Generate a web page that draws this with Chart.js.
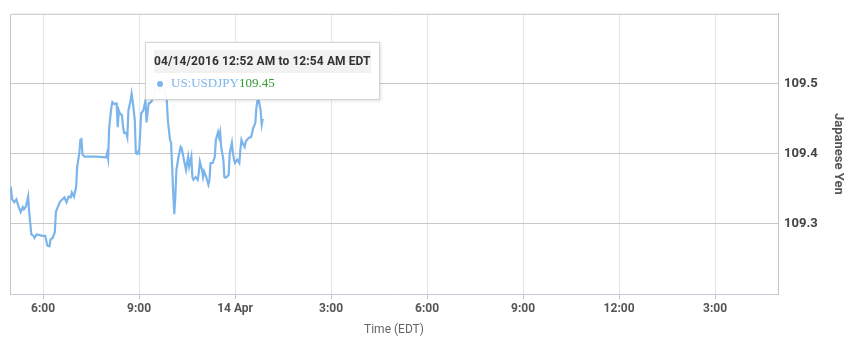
<!DOCTYPE html>
<html>
<head>
<meta charset="utf-8">
<script src="https://cdn.jsdelivr.net/npm/chart.js@4/dist/chart.umd.min.js"></script>
<style>
  body { margin: 0; background: #fff; }
  #wrap { position: relative; width: 854px; height: 350px; }
  #tip {
    position: absolute; display: none; pointer-events: none;
    background: rgba(255,255,255,0.95);
    border: 1px solid #d4d4d4;
    box-shadow: 1px 1px 3px rgba(0,0,0,0.12);
    padding: 7px 8px;
  }
  #tip .head {
    font: bold 12px Roboto, sans-serif; color: #333; letter-spacing: 0.1px;
    background: #f2f2f2; line-height: 23px; white-space: nowrap;
  }
  #tip .row {
    font: 13px "Liberation Serif", serif; line-height: 19px; white-space: nowrap;
  }
  #tip .dot {
    display: inline-block; width: 6px; height: 6px; border-radius: 3px;
    background: #7cb5ec; margin: 0 8px 1px 3px; vertical-align: middle;
  }
</style>
</head>
<body>
<div id="wrap">
  <canvas id="myChart" width="854" height="350"></canvas>
  <div id="tip"></div>
</div>
<script>
// minutes since midnight, 13 Apr 2016 (EDT)
let times = [
  1018,1020,1022,1026,1030,1034,1038,1042,1044,1048,
  1052,1054,1058,1062,1064,1068,1074,1078,1084,1088,
  1092,1094,1098,1102,1104,1108,1112,1116,1120,1124,
  1128,1132,1134,1138,1142,1144,1148,1150,1152,1154,
  1158,1168,1180,1198,1200,1202,1204,1208,1210,1214,
  1218,1220,1222,1224,1228,1230,1232,1236,1238,1240,
  1244,1246,1248,1252,1254,1256,1258,1260,1264,1268,
  1270,1272,1274,1278,1282,1284,1288,1292,1298,1304,
  1308,1312,1314,1318,1320,1322,1324,1326,1328,1330,
  1334,1338,1340,1344,1348,1350,1352,1354,1358,1360,
  1362,1366,1370,1372,1374,1378,1380,1382,1386,1390,
  1392,1394,1398,1402,1404,1408,1410,1412,1414,1418,
  1420,1422,1424,1428,1430,1434,1436,1438,1440,1444,
  1448,1450,1452,1454,1458,1460,1462,1466,1470,1472,
  1474,1478,1480,1482,1484,1488,1490,1492
];
let usdjpy = [
  109.346,109.349,109.335,109.331,109.335,109.325,109.317,109.324,109.321,109.325,
  109.339,109.317,109.285,109.283,109.280,109.285,109.284,109.283,109.283,109.269,
  109.268,109.278,109.280,109.288,109.317,109.325,109.332,109.335,109.338,109.331,
  109.339,109.338,109.345,109.339,109.353,109.382,109.401,109.420,109.421,109.399,
  109.396,109.396,109.396,109.395,109.401,109.393,109.438,109.466,109.474,109.471,
  109.472,109.438,109.462,109.458,109.455,109.438,109.430,109.430,109.424,109.462,
  109.476,109.486,109.476,109.448,109.401,109.400,109.403,109.401,109.458,109.462,
  109.469,109.476,109.445,109.472,109.474,109.476,109.485,109.495,109.490,109.500,
  109.490,109.476,109.448,109.420,109.416,109.382,109.345,109.314,109.339,109.377,
  109.396,109.410,109.408,109.392,109.377,109.387,109.396,109.382,109.396,109.367,
  109.363,109.367,109.363,109.373,109.389,109.377,109.367,109.375,109.367,109.356,
  109.363,109.387,109.387,109.396,109.420,109.431,109.424,109.431,109.410,109.392,
  109.367,109.366,109.367,109.370,109.401,109.416,109.401,109.392,109.387,109.392,
  109.387,109.406,109.420,109.416,109.410,109.417,109.420,109.423,109.424,109.430,
  109.437,109.444,109.466,109.476,109.478,109.462,109.442,109.450
];
let xTicks = [1080, 1260, 1440, 1620, 1800, 1980, 2160, 2340];
let yTicks = [109.3, 109.4, 109.5];
let xMin = 1018, xMax = 2458;
let yMin = 109.2, yMax = 109.6;
let symbol = 'US:USDJPY';
let quoteDate = '04/14/2016';

function tickLabel(m) {
  let h = Math.floor(m / 60) % 24;
  if (h === 0) return '14 Apr';
  return (h % 12 || 12) + ':00';
}

function clock(m) {
  let h = Math.floor(m / 60) % 24;
  let mm = m % 60;
  return (h % 12 || 12) + ':' + String(mm).padStart(2, '0') + (h < 12 ? ' AM' : ' PM');
}

// plot frame on top / left
const frame = {
  id: 'frame',
  beforeDatasetsDraw(chart) {
    const a = chart.chartArea, c = chart.ctx;
    c.save();
    c.strokeStyle = '#c4c4c4';
    c.lineWidth = 1;
    c.beginPath();
    c.moveTo(a.left + 0.5, a.bottom);
    c.lineTo(a.left + 0.5, a.top + 0.5);
    c.lineTo(a.right, a.top + 0.5);
    c.stroke();
    c.restore();
  }
};

function externalTip(context) {
  const tip = document.getElementById('tip');
  const t = context.tooltip;
  if (t.opacity === 0 || !t.dataPoints || !t.dataPoints.length) {
    tip.style.display = 'none';
    return;
  }
  const p = t.dataPoints[0];
  const m = p.parsed.x;
  tip.innerHTML =
    '<div class="head">' + quoteDate + ' ' + clock(m - 1440) + ' to ' + clock(m - 1440 + 2) + ' EDT</div>' +
    '<div class="row"><span class="dot"></span><span style="color:#7cb5ec">' + symbol +
    '</span><span style="color:#2f9a2f">' + p.parsed.y.toFixed(2) + '</span></div>';
  tip.style.display = 'block';
  const w = tip.offsetWidth, h = tip.offsetHeight;
  tip.style.left = Math.round(t.caretX - w / 2) + 'px';
  tip.style.top = Math.round(t.caretY - 19 - h) + 'px';
}

Chart.defaults.font.family = 'Roboto';

let points = times.map((t, i) => ({x: t, y: usdjpy[i]}));

let chart = new Chart(document.getElementById('myChart'), {
  type: 'line',
  data: {
    datasets: [{
      label: symbol,
      data: points,
      borderColor: '#7cb5ec',
      borderWidth: 2.2,
      pointRadius: 0,
      pointHoverRadius: 0,
      tension: 0,
      fill: false
    }]
  },
  options: {
    responsive: false,
    devicePixelRatio: 1,
    animation: false,
    events: [],
    layout: {padding: {left: 10, top: 12, right: 0, bottom: 0}},
    plugins: {
      legend: {display: false},
      tooltip: {enabled: false, external: externalTip}
    },
    scales: {
      x: {
        type: 'linear',
        min: xMin,
        max: xMax,
        afterBuildTicks: s => { s.ticks = xTicks.map(v => ({value: v})); },
        afterFit: s => { s.height = 56; },
        grid: {color: '#e6e6e6', tickColor: '#c4c4c4', tickLength: 5},
        border: {color: '#c4ccd8'},
        ticks: {
          callback: v => tickLabel(v),
          color: '#555',
          font: {size: 12, weight: 'bold'},
          padding: 3,
          maxRotation: 0,
          autoSkip: false
        },
        title: {
          display: true,
          text: 'Time (EDT)',
          color: '#666',
          font: {size: 12},
          padding: {top: 4, bottom: 13}
        }
      },
      y: {
        position: 'right',
        min: yMin,
        max: yMax,
        afterBuildTicks: s => { s.ticks = yTicks.map(v => ({value: v})); },
        afterFit: s => { s.width = 76; },
        grid: {color: '#c8c8c8', drawTicks: false},
        border: {color: '#c4c4c4'},
        ticks: {
          callback: v => v.toFixed(1),
          color: '#444',
          font: {size: 13, weight: 'bold'},
          padding: 6
        },
        title: {
          display: true,
          text: 'Japanese Yen',
          color: '#555',
          font: {size: 13, weight: 'bold'},
          padding: {top: 8, bottom: 0}
        }
      }
    }
  },
  plugins: [frame]
});

chart.tooltip.setActiveElements([{datasetIndex: 0, index: points.length - 1}], {x: 0, y: 0});
chart.update();
</script>
</body>
</html>
